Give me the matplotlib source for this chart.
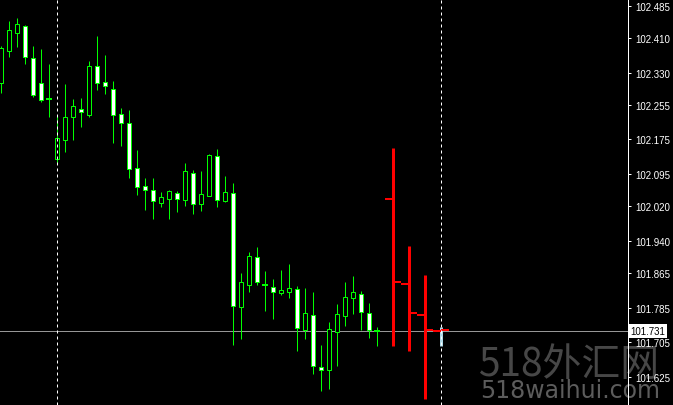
import matplotlib
matplotlib.use("Agg")
import matplotlib.pyplot as plt
from matplotlib.patches import Rectangle
import numpy as np

# ---------------------------------------------------------
# DATA (lower timeframe candles)
# ---------------------------------------------------------
opens = [102.306, 102.380, 102.422, 102.438, 102.364, 102.306, 102.269, 102.130,
         102.174, 102.227, 102.245, 102.232, 102.345, 102.308, 102.292, 102.234,
         102.213, 102.109, 102.067, 102.058, 102.028, 102.037, 102.051, 102.034,
         102.097, 102.025, 102.044, 102.136, 102.032, 102.051, 101.786, 101.837,
         101.902, 101.837, 101.833, 101.819, 101.821, 101.828, 101.733, 101.768,
         101.647, 101.640, 101.728, 101.766, 101.807, 101.817, 101.772, 101.731]
highs = [102.392, 102.449, 102.456, 102.440, 102.392, 102.385, 102.350, 102.229,
         102.303, 102.269, 102.271, 102.357, 102.415, 102.371, 102.310, 102.248,
         102.243, 102.150, 102.085, 102.085, 102.053, 102.058, 102.055, 102.120,
         102.104, 102.102, 102.141, 102.153, 102.090, 102.074, 101.865, 101.914,
         101.925, 101.870, 101.851, 101.872, 101.886, 101.835, 101.830, 101.821,
         101.698, 101.752, 101.793, 101.844, 101.858, 101.823, 101.796, 101.740]
lows = [102.283, 102.366, 102.389, 102.350, 102.273, 102.262, 102.227, 102.120,
        102.146, 102.174, 102.204, 102.227, 102.290, 102.280, 102.167, 102.160,
        102.085, 102.046, 102.011, 101.990, 102.018, 101.990, 102.007, 102.021,
        102.002, 102.009, 102.044, 102.018, 102.030, 101.698, 101.712, 101.821,
        101.837, 101.777, 101.759, 101.814, 101.807, 101.684, 101.712, 101.631,
        101.592, 101.596, 101.650, 101.742, 101.770, 101.733, 101.714, 101.696]
closes = [102.387, 102.429, 102.443, 102.366, 102.278, 102.266, 102.269, 102.178,
          102.227, 102.252, 102.239, 102.345, 102.306, 102.299, 102.232, 102.213,
          102.106, 102.065, 102.058, 102.032, 102.041, 102.055, 102.037, 102.102,
          102.025, 102.048, 102.139, 102.034, 102.053, 101.789, 101.844, 101.905,
          101.844, 101.837, 101.821, 101.826, 101.830, 101.738, 101.772, 101.650,
          101.640, 101.735, 101.770, 101.810, 101.821, 101.775, 101.733, 101.731]

# higher timeframe OHLC bars (red)
htf_open = [102.037, 101.840, 101.768, 101.731]
htf_high = [102.155, 101.928, 101.861, 101.740]
htf_low = [101.696, 101.684, 101.573, 101.696]
htf_close = [101.844, 101.772, 101.733, 101.733]

price_ticks = [102.485, 102.410, 102.330, 102.255, 102.175, 102.095,
               102.020, 101.940, 101.865, 101.785, 101.705, 101.625]
current_price = 101.731

# ---------------------------------------------------------
# STYLE
# ---------------------------------------------------------
GREEN = "#00ff00"
RED = "#ff0000"
PX = 0.72  # one pixel in points at 100 dpi

fig = plt.figure(figsize=(6.73, 4.06), dpi=100, facecolor="black")
ax = fig.add_axes([0, 0, 628 / 673, 1])
ax.patch.set_visible(False)
ax.set_zorder(1)

n = len(closes)
x = np.arange(n)

# wicks
ax.vlines(x, lows, highs, color=GREEN, lw=PX, zorder=2)

# bodies
for i in range(n):
    o, c = opens[i], closes[i]
    if abs(c - o) < 1e-9:
        ax.hlines(o, i - 0.33, i + 0.33, color=GREEN, lw=PX * 2, zorder=3)
        continue
    fc = "black" if c > o else "white"
    ax.add_patch(Rectangle((i - 0.3, min(o, c)), 0.6, abs(c - o),
                           facecolor=fc, edgecolor=GREEN, lw=PX, zorder=3))

# higher timeframe bars
hx = n + 1 + 2 * np.arange(len(htf_close))
for k in range(len(htf_close)):
    col = RED if k < len(htf_close) - 1 else "#add8e6"
    ax.vlines(hx[k], htf_low[k], htf_high[k], color=col, lw=PX * 3, zorder=4)
    ax.hlines(htf_open[k], hx[k] - 0.95, hx[k], color=RED, lw=PX * 2, zorder=4)
    ax.hlines(htf_close[k], hx[k], hx[k] + 0.95, color=RED, lw=PX * 2, zorder=4)

# current price line
ax.axhline(current_price, color="#969696", lw=PX, zorder=1.5)

# period separators
for sx in [7, hx[-1]]:
    ax.axvline(sx, color="white", lw=PX, linestyle=(0, (3, 3)), zorder=5)

ax.set_xlim(-0.125, 78.375)
ax.set_ylim(101.5592, 102.5005)

for s in ["top", "left", "bottom"]:
    ax.spines[s].set_visible(False)
ax.spines["right"].set_color("white")
ax.spines["right"].set_linewidth(PX)

ax.set_xticks([])
ax.yaxis.tick_right()
ax.set_yticks(price_ticks)
ax.set_yticklabels([f"{v:.3f}" for v in price_ticks])
ax.tick_params(axis="y", colors="white", labelcolor="white", length=3 * PX,
               width=PX, pad=4 * PX, labelsize=7)
for lab in ax.get_yticklabels():
    lab.set_family("Liberation Sans")

# watermark (behind the chart)
fig.text(478 / 673, 30 / 406, "518外汇网", fontsize=28, color="#474747",
         family=["Noto Sans CJK SC", "DejaVu Sans"], va="baseline", zorder=0)
fig.text(480 / 673, 8 / 406, "518waihui.com", fontsize=17, color="#5c5c5c",
         family="DejaVu Sans", va="baseline", zorder=0)

# current price label
ax.annotate(f"{current_price:.3f}", xy=(1, current_price),
            xycoords=("axes fraction", "data"), xytext=(2.5 * PX, 0),
            textcoords="offset points", va="center", ha="left",
            fontsize=7, family="Liberation Sans", color="black",
            bbox=dict(facecolor="white", edgecolor="none", pad=1.2),
            annotation_clip=False, zorder=10)

plt.savefig("out.png", dpi=100, facecolor="black")
plt.close("all")
